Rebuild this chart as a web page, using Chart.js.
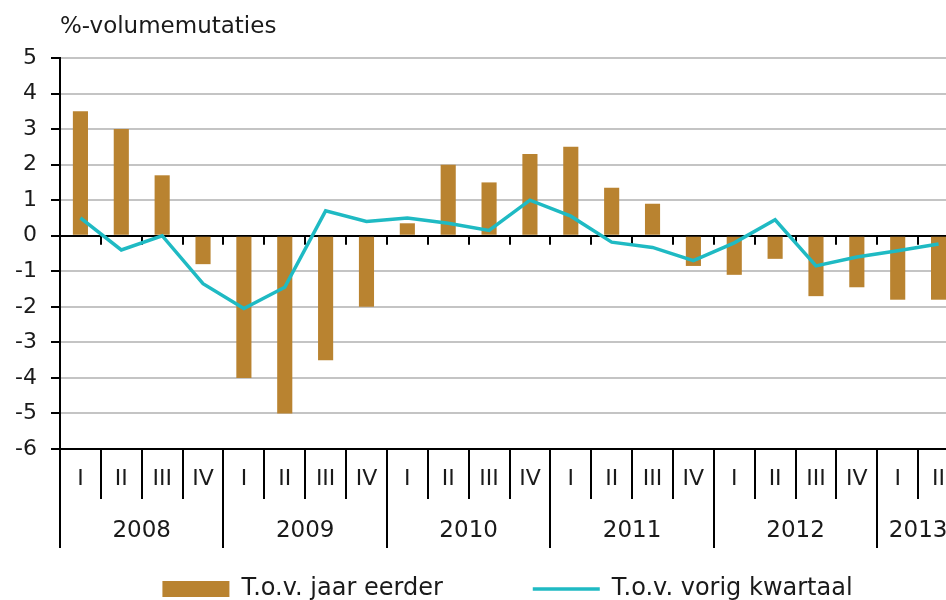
<!DOCTYPE html>
<html>
<head>
<meta charset="utf-8">
<title>%-volumemutaties</title>
<script src="https://cdn.jsdelivr.net/npm/chart.js@4"></script>
<style>
    html, body { margin: 0; padding: 0; background: #fff; overflow: hidden; }
    #wrap { width: 946px; height: 600px; overflow: hidden; }
</style>
</head>
<body>
<div id="wrap">
    <canvas id="volume-chart" width="1015" height="611"></canvas>
</div>
<script>
// --- Data ---
const quarters = ['I', 'II', 'III', 'IV', 'I', 'II', 'III', 'IV', 'I', 'II', 'III', 'IV',
    'I', 'II', 'III', 'IV', 'I', 'II', 'III', 'IV', 'I', 'II'];
const years = ['2008', '2009', '2010', '2011', '2012', '2013'];
const jaarEerder = [3.5, 3.0, 1.7, -0.8, -4.0, -5.0, -3.5, -2.0, 0.35, 2.0, 1.5, 2.3,
    2.5, 1.35, 0.9, -0.85, -1.1, -0.65, -1.7, -1.45, -1.8, -1.8];
const vorigKwartaal = [0.5, -0.4, 0.0, -1.35, -2.05, -1.45, 0.7, 0.4, 0.5, 0.35, 0.15, 1.0,
    0.55, -0.18, -0.33, -0.7, -0.2, 0.45, -0.85, -0.6, -0.42, -0.23];
const yMin = -6;
const yMax = 5;

const FONT = "'DejaVu Sans', sans-serif";
const TEXT = '#1a1a1a';
const BAR = '#b98330';
const LINE = '#1fbac3';

// year boundaries follow the quarter labels (a new year starts at 'I')
const yearStarts = quarters.map((q, i) => q === 'I' ? i : -1).filter(i => i >= 0);
const yearMids = yearStarts.map((s, k) => (s + (yearStarts[k + 1] ?? quarters.length)) / 2);
const yearTicks = [...yearStarts, ...yearMids].sort((a, b) => a - b);

Chart.defaults.font.family = FONT;
Chart.defaults.color = TEXT;

// small tick marks on the zero line, between quarters
const zeroAxisTicks = {
    id: 'zeroAxisTicks',
    beforeDatasetsDraw(chart) {
        const { ctx, scales: { x, y } } = chart;
        const y0 = y.getPixelForValue(0);
        const half = (x.getPixelForValue(1) - x.getPixelForValue(0)) / 2;
        ctx.save();
        ctx.strokeStyle = '#000';
        ctx.lineWidth = 2;
        ctx.beginPath();
        for (let i = 1; i < quarters.length; i++) {
            const px = Math.round(x.getPixelForValue(i) - half);
            ctx.moveTo(px, y0);
            ctx.lineTo(px, y0 + 9);
        }
        ctx.stroke();
        ctx.restore();
    }
};

const ctx = document.getElementById('volume-chart').getContext('2d');
new Chart(ctx, {
    type: 'bar',
    data: {
        labels: quarters,
        datasets: [
            {
                label: 'T.o.v. jaar eerder',
                data: jaarEerder,
                backgroundColor: BAR,
                borderWidth: 0,
                barPercentage: 0.37,
                categoryPercentage: 1.0,
                pointStyle: 'rect',
                order: 1
            },
            {
                type: 'line',
                label: 'T.o.v. vorig kwartaal',
                data: vorigKwartaal,
                borderColor: LINE,
                backgroundColor: LINE,
                borderWidth: 3.5,
                pointRadius: 0,
                tension: 0,
                fill: false,
                pointStyle: 'line',
                order: 0
            }
        ]
    },
    options: {
        responsive: false,
        animation: false,
        events: [],
        layout: { padding: 0 },
        scales: {
            x: {
                type: 'category',
                position: 'bottom',
                weight: 0,
                offset: true,
                grid: {
                    offset: true,
                    drawOnChartArea: false,
                    color: '#000',
                    lineWidth: 2,
                    tickLength: 50
                },
                border: { display: true, color: '#000', width: 2 },
                ticks: {
                    autoSkip: false,
                    maxRotation: 0,
                    minRotation: 0,
                    mirror: true,
                    padding: -43,
                    font: { size: 22 },
                    color: TEXT
                },
                afterFit: (scale) => { scale.height = 0; }
            },
            x2: {
                type: 'linear',
                position: 'bottom',
                weight: 1,
                bounds: 'data',
                offset: false,
                min: 0,
                max: quarters.length,
                grid: {
                    offset: false,
                    drawOnChartArea: false,
                    lineWidth: 2,
                    tickLength: 99,
                    color: (c) => yearStarts.includes(c.tick && c.tick.value) ? '#000' : 'rgba(0,0,0,0)'
                },
                border: { display: false },
                ticks: {
                    autoSkip: false,
                    maxRotation: 0,
                    minRotation: 0,
                    mirror: true,
                    padding: -96,
                    font: { size: 23 },
                    color: TEXT,
                    callback: (value) => {
                        const k = yearMids.indexOf(value);
                        return k >= 0 ? years[k] : '';
                    }
                },
                afterBuildTicks: (scale) => {
                    scale.ticks = yearTicks.map(v => ({ value: v }));
                    scale.min = 0;
                    scale.max = quarters.length;
                },
                afterFit: (scale) => { scale.height = 38; }
            },
            y: {
                min: yMin,
                max: yMax,
                ticks: {
                    stepSize: 1,
                    padding: 14,
                    font: { size: 22 },
                    color: TEXT
                },
                grid: {
                    color: (c) => c.tick && c.tick.value === 0 ? '#000' : '#c4c4c4',
                    lineWidth: 2,
                    tickLength: 9,
                    tickColor: '#000'
                },
                border: { display: true, color: '#000', width: 2 },
                afterFit: (scale) => { scale.width = 60; }
            },
            // empty right-hand axis, only keeps the plot edge where the picture crops it
            yRight: {
                type: 'linear',
                position: 'right',
                grid: { display: false },
                border: { display: false },
                ticks: { display: false },
                afterFit: (scale) => { scale.width = 56; }
            }
        },
        plugins: {
            title: {
                display: true,
                fullSize: false,
                text: '%-volumemutaties',
                align: 'start',
                color: TEXT,
                font: { size: 23, weight: 'normal' },
                padding: { top: 13, bottom: 17.4 }
            },
            legend: {
                position: 'bottom',
                align: 'center',
                labels: {
                    usePointStyle: true,
                    pointStyleWidth: 67,
                    boxHeight: 16,
                    padding: 90,
                    color: TEXT,
                    font: { size: 24 },
                    sort: (a, b) => a.datasetIndex - b.datasetIndex
                }
            },
            tooltip: { enabled: false }
        }
    },
    plugins: [zeroAxisTicks]
});
</script>
</body>
</html>
